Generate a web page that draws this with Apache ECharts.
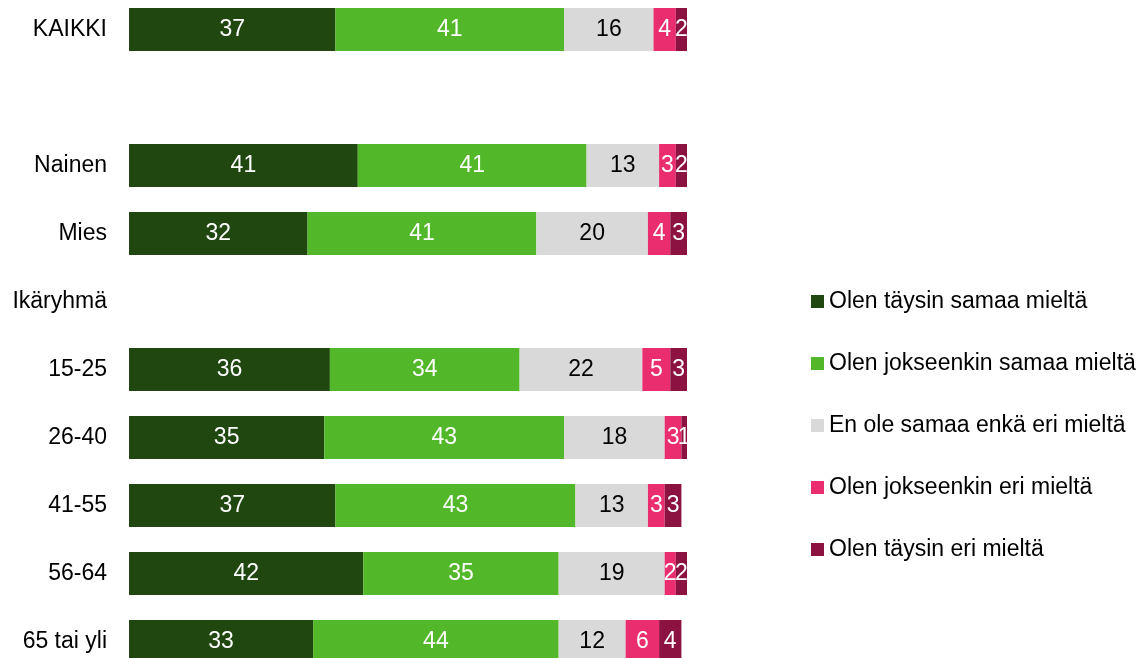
<!DOCTYPE html>
<html>
<head>
<meta charset="utf-8">
<script src="https://cdn.jsdelivr.net/npm/echarts@6/dist/echarts.min.js"></script>
<style>
  html, body { margin: 0; padding: 0; background: #ffffff; }
  #chart { width: 1146px; height: 658px; }
</style>
</head>
<body>
<div id="chart"></div>
<script>
// Row labels (top to bottom); empty rows act as spacers / group headings
const categories = ['KAIKKI', '', 'Nainen', 'Mies', 'Ikäryhmä', '15-25', '26-40', '41-55', '56-64', '65 tai yli'];

const seriesNames = [
  'Olen täysin samaa mieltä',
  'Olen jokseenkin samaa mieltä',
  'En ole samaa enkä eri mieltä',
  'Olen jokseenkin eri mieltä',
  'Olen täysin eri mieltä'
];

// Percentages per answer, one value per row ('-' = no bar)
const taysinSamaa     = [37, '-', 41, 32, '-', 36, 35, 37, 42, 33];
const jokseenkinSamaa = [41, '-', 41, 41, '-', 34, 43, 43, 35, 44];
const eiSamaaEiEri    = [16, '-', 13, 20, '-', 22, 18, 13, 19, 12];
const jokseenkinEri   = [4,  '-', 3,  4,  '-', 5,  3,  3,  2,  6];
const taysinEri       = [2,  '-', 2,  3,  '-', 3,  1,  3,  2,  4];

const seriesValues = [taysinSamaa, jokseenkinSamaa, eiSamaaEiEri, jokseenkinEri, taysinEri];
const colors = ['#20470f', '#52b82a', '#d9d9d9', '#ea2d6e', '#8c1241'];
const labelColors = ['#ffffff', '#ffffff', '#000000', '#ffffff', '#ffffff'];

const FONT = '"Liberation Sans", Arial, sans-serif';

const chart = echarts.init(document.getElementById('chart'), null, { renderer: 'canvas' });

chart.setOption({
  animation: false,
  backgroundColor: '#ffffff',
  grid: {
    left: 129, width: 558, top: -4.5, height: 680,
    containLabel: false,
    outerBoundsMode: 'none'
  },
  xAxis: {
    type: 'value', min: 0, max: 100,
    show: false
  },
  yAxis: {
    type: 'category',
    inverse: true,
    data: categories,
    axisLine: { show: false },
    axisTick: { show: false },
    splitLine: { show: false },
    axisLabel: {
      margin: 22,
      color: '#000000',
      fontFamily: FONT,
      fontSize: 23
    }
  },
  legend: {
    orient: 'vertical',
    left: 806,
    top: 285,
    itemWidth: 13,
    itemHeight: 13,
    itemGap: 39,
    icon: 'rect',
    textStyle: { color: '#000000', fontFamily: FONT, fontSize: 23 },
    data: seriesNames
  },
  series: seriesNames.map((name, i) => ({
    name: name,
    type: 'bar',
    stack: 'total',
    barWidth: 43,
    itemStyle: { color: colors[i] },
    label: {
      show: true,
      position: 'inside',
      color: labelColors[i],
      fontFamily: FONT,
      fontSize: 23
    },
    emphasis: { disabled: true },
    data: seriesValues[i]
  }))
});
</script>
</body>
</html>
